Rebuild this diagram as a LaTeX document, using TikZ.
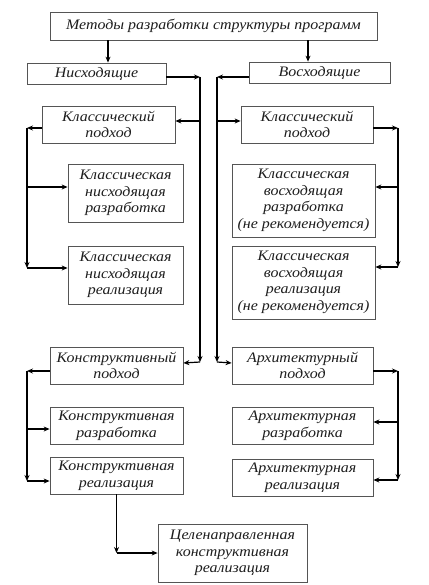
\documentclass[tikz,border=0pt]{standalone}
\usepackage{fontspec}
\setmainfont{Liberation Serif}
\newfontfamily\shriftBlok[FakeStretch=1.1]{Liberation Serif}
\usetikzlibrary{positioning}
\usetikzlibrary{arrows.meta}
\usetikzlibrary{calc}
\definecolor{figTexto}{RGB}{30,30,30}
\definecolor{figBorde}{RGB}{85,85,85}
\tikzset{
  blok/.style={
    rectangle, draw=figBorde, line width=0.8pt, fill=white,
    align=center, text=figTexto, inner sep=1pt,
    font=\shriftBlok\itshape\fontsize{14.5}{16.6}\selectfont
  },
  strelka/.style={-{Stealth[length=6pt,width=5pt,inset=2pt]}, line width=1.2pt, draw=black},
  liniya/.style={line width=1.2pt, draw=black}
}

\begin{document}
\begin{tikzpicture}[x=1pt, y=-1pt]
  \useasboundingbox (0,0) rectangle (428,585);
  % верх
  \node[blok, minimum width=327pt, minimum height=28pt] (metody) at (213.5,26) {Методы разработки структуры программ};
  \node[blok, minimum width=139pt, minimum height=21pt] (nish) at (96.5,73.5) {Нисходящие};
  \node[blok, minimum width=141pt, minimum height=21pt] (vosh) at (319.5,72.5) {Восходящие};
  % классический подход
  \node[blok, minimum width=133pt, minimum height=37pt] (klL) at (108.5,124.5) {Классический\\подход};
  \node[blok, minimum width=132pt, minimum height=37pt] (klR) at (307,124.5) {Классический\\подход};
  \node[blok, minimum width=115pt, minimum height=58pt] (knr) at (125.5,193) {Классическая\\нисходящая\\разработка};
  \node[blok, minimum width=115pt, minimum height=58pt] (kni) at (125.5,275) {Классическая\\нисходящая\\реализация};
  \node[blok, minimum width=143pt, minimum height=73pt] (kvr) at (303.5,200.5) {Классическая\\восходящая\\разработка\\(не рекомендуется)};
  \node[blok, minimum width=143pt, minimum height=73pt] (kvi) at (303.5,282.5) {Классическая\\восходящая\\реализация\\(не рекомендуется)};
  % конструктивный и архитектурный
  \node[blok, minimum width=133pt, minimum height=37pt] (konP) at (116.5,365.5) {Конструктивный\\подход};
  \node[blok, minimum width=141pt, minimum height=37pt] (arhP) at (302.5,365.5) {Архитектурный\\подход};
  \node[blok, minimum width=133pt, minimum height=37pt] (konR) at (116.5,425.5) {Конструктивная\\разработка};
  \node[blok, minimum width=141pt, minimum height=37pt] (arhR) at (302.5,425.5) {Архитектурная\\разработка};
  \node[blok, minimum width=133pt, minimum height=37pt] (konRe) at (116.5,475.5) {Конструктивная\\реализация};
  \node[blok, minimum width=141pt, minimum height=37pt] (arhRe) at (302.5,477.5) {Архитектурная\\реализация};
  \node[blok, minimum width=149pt, minimum height=58pt] (cel) at (232.5,553) {Целенаправленная\\конструктивная\\реализация};
  % шины
  \coordinate (shinaL) at (27,0);
  \coordinate (shinaA) at (200,0);
  \coordinate (shinaB) at (217,0);
  \coordinate (shinaR) at (398,0);
  \coordinate (nizA) at (200,362);
  \coordinate (nizB) at (217,362);
  \draw[strelka] ([xshift=11.5pt]metody.south -| nish.north) -- ([xshift=11.5pt]nish.north);
  \draw[strelka] ([xshift=-11.5pt]metody.south -| vosh.north) -- ([xshift=-11.5pt]vosh.north);
  \draw[strelka] ([yshift=-3.5pt]nish.east) -- ([yshift=-3.5pt]nish.east -| shinaA);
  \draw[strelka] ([yshift=-4.5pt]vosh.west) -- ([yshift=-4.5pt]vosh.west -| shinaB);
  \draw[strelka] ([yshift=-3.5pt]nish.east -| shinaA) -- (nizA);
  \draw[strelka] ([yshift=-4.5pt]vosh.west -| shinaB) -- (nizB);
  \draw[strelka] ([yshift=3.5pt]klL.east -| shinaA) -- ([yshift=3.5pt]klL.east);
  \draw[strelka] ([yshift=3.5pt]klR.west -| shinaB) -- ([yshift=3.5pt]klR.west);
  \draw[strelka] (nizA) -- ([yshift=2.5pt]konP.east);
  \draw[strelka] (nizB) -- ([yshift=2.5pt]arhP.west);
  % левая ветвь
  \draw[strelka] ([yshift=-3.5pt]klL.west) -- ([yshift=-3.5pt]klL.west -| shinaL);
  \draw[strelka] ([yshift=-3.5pt]klL.west -| shinaL) -- ([yshift=7pt]kni.west -| shinaL);
  \draw[strelka] ([yshift=6pt]knr.west -| shinaL) -- ([yshift=6pt]knr.west);
  \draw[strelka] ([yshift=7pt]kni.west -| shinaL) -- ([yshift=7pt]kni.west);
  \draw[strelka] ([yshift=-5.5pt]konP.west) -- ([yshift=-5.5pt]konP.west -| shinaL);
  \draw[strelka] ([yshift=-5.5pt]konP.west -| shinaL) -- ([yshift=-5.5pt]konRe.west -| shinaL);
  \draw[strelka] ([yshift=-3.5pt]konR.west -| shinaL) -- ([yshift=-3.5pt]konR.west);
  \draw[strelka] ([yshift=-5.5pt]konRe.west -| shinaL) -- ([yshift=-5.5pt]konRe.west);
  % правая ветвь
  \draw[strelka] ([yshift=-3.5pt]klR.east) -- ([yshift=-3.5pt]klR.east -| shinaR);
  \draw[strelka] ([yshift=-3.5pt]klR.east -| shinaR) -- ([yshift=15.5pt]kvi.east -| shinaR);
  \draw[strelka] ([yshift=13.5pt]kvr.east -| shinaR) -- ([yshift=13.5pt]kvr.east);
  \draw[strelka] ([yshift=15.5pt]kvi.east -| shinaR) -- ([yshift=15.5pt]kvi.east);
  \draw[strelka] ([yshift=-5.5pt]arhP.east) -- ([yshift=-5.5pt]arhP.east -| shinaR);
  \draw[strelka] ([yshift=-5.5pt]arhP.east -| shinaR) -- ([yshift=-2.5pt]arhRe.east -| shinaR);
  \draw[strelka] ([yshift=3.5pt]arhR.east -| shinaR) -- ([yshift=3.5pt]arhR.east);
  \draw[strelka] ([yshift=-2.5pt]arhRe.east -| shinaR) -- ([yshift=-2.5pt]arhRe.east);
  % целенаправленная
  \coordinate (povorot) at (konRe.south |- cel.west);
  \draw[strelka] (konRe.south) -- (povorot);
  \draw[strelka] (povorot) -- (cel.west);
\end{tikzpicture}
\end{document}
